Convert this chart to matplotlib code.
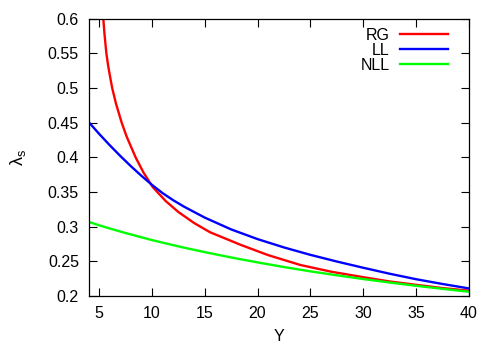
import numpy as np
import matplotlib
matplotlib.use("Agg")
import matplotlib.pyplot as plt

plt.rcParams['font.family'] = ['Liberation Sans', 'DejaVu Sans']
plt.rcParams['mathtext.fontset'] = 'custom'
plt.rcParams['mathtext.rm'] = 'Liberation Sans'
plt.rcParams['mathtext.it'] = 'Liberation Sans'

# values
y_rg = [5.39, 5.5, 5.68, 5.85, 6.0, 6.23, 6.6, 7.13, 7.6, 8.45, 9.2, 10.08, 11.3,
        12.5, 14.0, 15.5, 18.37, 21.0, 24.07, 27.0, 30.08, 32.5, 35.08, 37.5, 40.0]
lam_rg = [0.600, 0.578, 0.550, 0.532, 0.519, 0.500, 0.477, 0.450, 0.430, 0.400,
          0.378, 0.357, 0.337, 0.3212, 0.3052, 0.292, 0.274, 0.259, 0.2447, 0.235,
          0.227, 0.221, 0.216, 0.2115, 0.2077]

y_ll = [4.0, 5.0, 6.0, 7.0, 8.0, 9.0, 10.0, 11.0, 12.0, 13.0, 15.0, 17.5, 20.0,
        22.5, 25.0, 27.5, 30.0, 32.5, 35.0, 37.5, 40.0]
lam_ll = [0.451, 0.4338, 0.4175, 0.402, 0.3873, 0.3734, 0.3603, 0.3485, 0.3383,
          0.3292, 0.3131, 0.2961, 0.2821, 0.2701, 0.2594, 0.2498, 0.2408, 0.2322,
          0.2243, 0.2174, 0.211]

y_nll = [4.0, 5.0, 6.0, 7.0, 8.0, 9.0, 10.0, 11.0, 12.0, 13.0, 15.0, 17.5, 20.0,
         22.5, 25.0, 27.5, 30.0, 32.5, 35.0, 37.5, 40.0]
lam_nll = [0.307, 0.302, 0.2974, 0.293, 0.2888, 0.2847, 0.2807, 0.277, 0.2734,
           0.2699, 0.2633, 0.2556, 0.2485, 0.2418, 0.2356, 0.2299, 0.2245, 0.2195,
           0.2148, 0.2104, 0.2062]

x_ticks = [5, 10, 15, 20, 25, 30, 35, 40]
y_ticks = [0.2, 0.25, 0.3, 0.35, 0.4, 0.45, 0.5, 0.55, 0.6]

fig = plt.figure(figsize=(4.98, 3.48), dpi=100)
ax = fig.add_axes([0.178, 0.1494, 0.763, 0.7968])

ax.plot(y_rg, lam_rg, color='#ff0000', lw=1.7, label='RG')
ax.plot(y_ll, lam_ll, color='#0000ff', lw=1.7, label='LL')
ax.plot(y_nll, lam_nll, color='#00ff00', lw=1.7, label='NLL')

ax.set_xlim(4, 40)
ax.set_ylim(0.2, 0.6)
ax.set_xticks(x_ticks)
ax.set_yticks(y_ticks)
ax.set_yticklabels(['%g' % v for v in y_ticks])
ax.tick_params(direction='in', length=5.5, width=0.8, top=True, right=True,
               labelsize=11.5, pad=7)
for s in ax.spines.values():
    s.set_linewidth(0.9)

ax.set_xlabel('Y', fontsize=11.5, labelpad=6)
ax.set_ylabel(r'$\mathrm{\lambda_s}$', fontsize=13, labelpad=14)

leg = ax.legend(loc='upper right', bbox_to_anchor=(0.963, 0.99), frameon=False,
                markerfirst=False, fontsize=11.5, handlelength=3.0,
                handletextpad=0.65, labelspacing=0.0, borderaxespad=0)

fig.savefig('out.png', dpi=100)
